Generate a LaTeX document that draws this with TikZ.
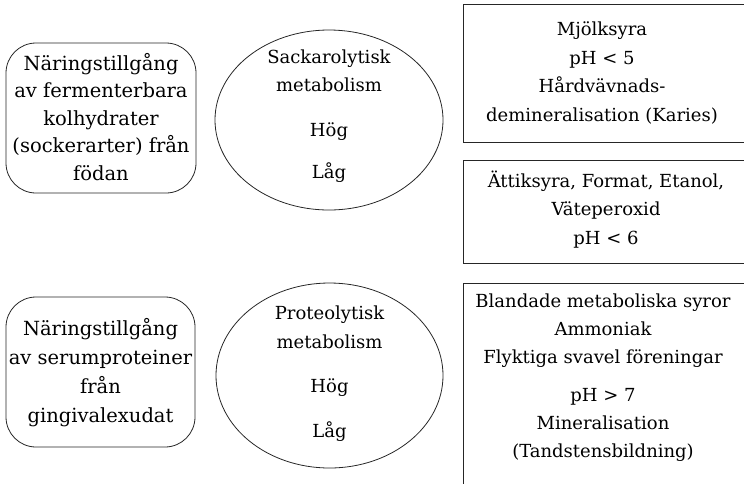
\documentclass[tikz,border=0pt]{standalone}
\usepackage{fontspec}
\setmainfont{DejaVu Serif}
\usetikzlibrary{shapes.geometric}
\begin{document}
\begin{tikzpicture}[x=1pt,y=-1pt,
  shapeline/.style={draw=black!85,line width=0.8pt},
  rbox/.style={shapeline,rounded corners=30pt,inner sep=0pt},
  ell/.style={shapeline,ellipse,inner sep=0pt},
  sqbox/.style={shapeline,inner sep=0pt},
  txt/.style={align=center,inner sep=0pt,font=\fontsize{18}{28.5}\selectfont,text=black},
  ltxt/.style={txt,font=\fontsize{19.5}{27.5}\selectfont}]
\useasboundingbox (0,0) rectangle (744,483);
\clip (0,0) rectangle (744,483);
% shapes
\node[rbox,minimum width=190pt,minimum height=150pt] (n1) at (101,118) {};
\node[rbox,minimum width=189pt,minimum height=150pt] (n2) at (100.5,372) {};
\node[ell,minimum width=228pt,minimum height=180pt] (e1) at (329,120) {};
\node[ell,minimum width=227pt,minimum height=185pt] (e2) at (329.5,375.5) {};
\node[sqbox,minimum width=320pt,minimum height=138pt] (r1) at (623,73) {};
\node[sqbox,minimum width=320pt,minimum height=103pt] (r2) at (623,211.5) {};
\node[sqbox,minimum width=320pt,minimum height=240pt] (r3) at (623,403) {};
% texts
\node[ltxt] (t1) at (101,117) {Näringstillgång\\av fermenterbara\\kolhydrater\\(sockerarter) från\\födan};
\node[ltxt,font=\fontsize{19.5}{29}\selectfont] (t2) at (100.5,373) {Näringstillgång\\av serumproteiner\\från\\gingivalexudat};
\node[txt] (t3) at (329,116) {Sackarolytisk\\metabolism\\[16pt]Hög\\[14pt]Låg};
\node[txt] (t4) at (329.5,373.5) {Proteolytisk\\metabolism\\[16pt]Hög\\[16pt]Låg};
\node[txt] (t5) at (602,73) {Mjölksyra\\pH < 5\\Hårdvävnads-\\demineralisation (Karies)};
\node[txt] (t6) at (606,209.5) {Ättiksyra, Format, Etanol,\\Väteperoxid\\pH < 6};
\node[txt,font=\fontsize{18}{28}\selectfont] (t7) at (603,378) {Blandade metaboliska syror\\Ammoniak\\Flyktiga svavel föreningar\\[10pt]pH > 7\\Mineralisation\\(Tandstensbildning)};
\end{tikzpicture}
\end{document}
